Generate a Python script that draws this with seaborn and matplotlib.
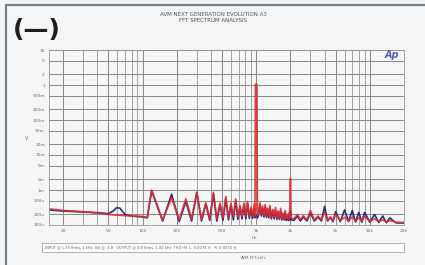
import numpy as np
import pandas as pd
import matplotlib
matplotlib.use("Agg")
import matplotlib.pyplot as plt
from matplotlib.patches import Rectangle
import seaborn as sns

# Colores de los canales
COLOR_CH_A = "#e22b30"
COLOR_CH_B = "#2c2e7c"
COLOR_GRID = "#8c8c8c"

# Datos (frecuencia en Hz, niveles en uV)
freq_hz = [
    15, 20, 30, 40, 50, 55, 59, 63, 70, 80, 100, 110,
    120, 150, 180, 210, 240, 270, 300, 330, 360, 390, 420, 450,
    480, 510, 540, 570, 600, 630, 660, 690, 720, 750, 780, 810,
    840, 870, 900, 930, 960, 975, 985, 1015, 1025, 1050, 1080, 1110,
    1140, 1170, 1200, 1230, 1260, 1290, 1320, 1360, 1400, 1440, 1480, 1520,
    1560, 1600, 1640, 1680, 1720, 1760, 1800, 1840, 1880, 1920, 1960, 1975,
    1990, 2010, 2025, 2150, 2300, 2450, 2600, 2800, 3000, 3250, 3500, 3750,
    4000, 4250, 4500, 4750, 5000, 5500, 6000, 6500, 7000, 7500, 8000, 8500,
    9000, 10000, 11000, 12000, 13000, 14000, 15000, 17000, 20000,
]
ch_a_uv = [
    290, 260, 240, 220, 200, 195, 190, 190, 185, 180, 175, 165,
    1000, 140, 600, 140, 560, 150, 820, 145, 430, 150, 860, 150,
    420, 160, 660, 160, 420, 170, 560, 170, 360, 175, 420, 180,
    470, 180, 320, 185, 400, 180, 1.05e6, 1.05e6, 190, 230, 430, 200,
    350, 190, 380, 180, 300, 180, 360, 170, 280, 165, 320, 160,
    250, 160, 300, 155, 220, 150, 260, 150, 200, 150, 230, 160,
    2100, 2100, 160, 150, 200, 145, 185, 140, 260, 140, 180, 140,
    230, 135, 170, 135, 200, 135, 165, 130, 170, 130, 160, 130,
    175, 128, 150, 125, 140, 122, 135, 120, 118,
]
ch_b_uv = [
    270, 250, 235, 225, 210, 250, 310, 305, 200, 180, 170, 160,
    950, 130, 760, 125, 470, 130, 870, 130, 400, 135, 780, 130,
    380, 135, 560, 140, 360, 140, 500, 145, 330, 150, 360, 150,
    400, 155, 280, 155, 300, 160, 200, 190, 160, 200, 380, 180,
    300, 170, 330, 165, 280, 160, 310, 150, 250, 150, 270, 145,
    230, 145, 250, 140, 200, 140, 230, 135, 180, 135, 190, 140,
    260, 250, 140, 135, 180, 130, 170, 130, 220, 130, 170, 130,
    340, 130, 165, 125, 240, 125, 270, 125, 260, 122, 230, 120,
    230, 120, 200, 118, 180, 116, 160, 115, 114,
]

x_ticks = [20, 50, 100, 200, 500, 1000, 2000, 5000, 10000, 20000]
x_tick_labels = ["20", "50", "100", "200", "500", "1k", "2k", "5k", "10k", "20k"]
y_ticks = [10, 5, 2, 1, 0.5, 0.2, 0.1, 0.05, 0.02, 0.01, 0.005, 0.002,
           0.001, 0.0005, 0.0002, 0.0001]
y_tick_labels = ["10", "5", "2", "1", "500m", "200m", "100m", "50m", "20m",
                 "10m", "5m", "2m", "1m", "500u", "200u", "100u"]

df = pd.DataFrame({
    "freq": freq_hz * 2,
    "level": [v / 1e6 for v in ch_a_uv] + [v / 1e6 for v in ch_b_uv],
    "canal": ["A"] * len(freq_hz) + ["B"] * len(freq_hz),
})

sns.set_style("white")
plt.rcParams["font.family"] = ["DejaVu Sans"]

fig = plt.figure(figsize=(4.25, 2.65), dpi=100)
fig.patch.set_facecolor("#f4f5f6")
ax = fig.add_axes([49 / 425, 1 - 225 / 265, 355 / 425, 175 / 265])
ax.set_facecolor("#f6f6f6")

# Marco de la pagina
fig.patches.append(Rectangle((6 / 425, -0.1), 1.2, (265 - 5) / 265 + 0.1,
                             transform=fig.transFigure, fill=False,
                             edgecolor="#7d8188", linewidth=1.6))

sns.lineplot(data=df[df["canal"] == "B"], x="freq", y="level", ax=ax,
             color=COLOR_CH_B, linewidth=1.2, estimator=None, legend=False)
sns.lineplot(data=df[df["canal"] == "A"], x="freq", y="level", ax=ax,
             color=COLOR_CH_A, linewidth=1.2, estimator=None, legend=False,
             alpha=0.9)

ax.set_xscale("log")
ax.set_yscale("log")
ax.set_xlim(15, 20000)
ax.set_ylim(1e-4, 10)

ax.set_xticks(x_ticks)
ax.set_xticklabels(x_tick_labels)
ax.set_yticks(y_ticks)
ax.set_yticklabels(y_tick_labels)
ax.yaxis.set_minor_locator(matplotlib.ticker.NullLocator())
ax.xaxis.set_minor_locator(matplotlib.ticker.LogLocator(base=10, subs=np.arange(1, 10)))
ax.xaxis.set_minor_formatter(matplotlib.ticker.NullFormatter())
ax.tick_params(axis="both", which="both", length=0, labelsize=3.2,
               colors="#707070", pad=3)
ax.grid(True, which="major", axis="both", color=COLOR_GRID, linewidth=0.75)
ax.grid(True, which="minor", axis="x", color=COLOR_GRID, linewidth=0.55)
ax.set_xlabel("")
ax.set_ylabel("")
for s in ax.spines.values():
    s.set_color("#9a9a9a")
    s.set_linewidth(0.6)

# Textos
fig.text(37 / 425, 1 - 30 / 265, "(\u2014)", fontsize=18, fontweight="bold",
         color="#1e1e1e", ha="center", va="center")
fig.text(213 / 425, 1 - 14 / 265, "AVM NEXT GENERATION EVOLUTION A3",
         fontsize=4, color="#555555", ha="center", va="center")
fig.text(213 / 425, 1 - 21 / 265, "FFT SPECTRUM ANALYSIS",
         fontsize=4, color="#555555", ha="center", va="center")
fig.text(392 / 425, 1 - 55 / 265, "Ap", fontsize=7, fontweight="bold",
         style="italic", color="#5a5db4", ha="center", va="center")
fig.text(27 / 425, 1 - 138 / 265, "V", fontsize=3.5, color="#707070",
         ha="center", va="center")
fig.text(254 / 425, 1 - 238 / 265, "Hz", fontsize=3.2, color="#707070",
         ha="center", va="center")

fig.patches.append(Rectangle((42 / 425, 1 - 252 / 265), 362 / 425, 9 / 265,
                             transform=fig.transFigure, facecolor="#fbfbfb",
                             edgecolor="#a8a8a8", linewidth=0.6))
fig.text(45 / 425, 1 - 247.5 / 265,
         "INPUT @ 1.73 Vrms, 1 kHz, Vol @ -4.8   OUTPUT @ 4.8 Vrms, 1.00 kHz  "
         "THD+N  L: 0.0074 %   R: 0.0074 %",
         fontsize=2.6, color="#666666", ha="left", va="center")
fig.text(254 / 425, 1 - 258 / 265, "AVM-FFT.at2c", fontsize=2.8,
         color="#707070", ha="center", va="center")

fig.savefig("out.png", dpi=100, facecolor=fig.get_facecolor())
